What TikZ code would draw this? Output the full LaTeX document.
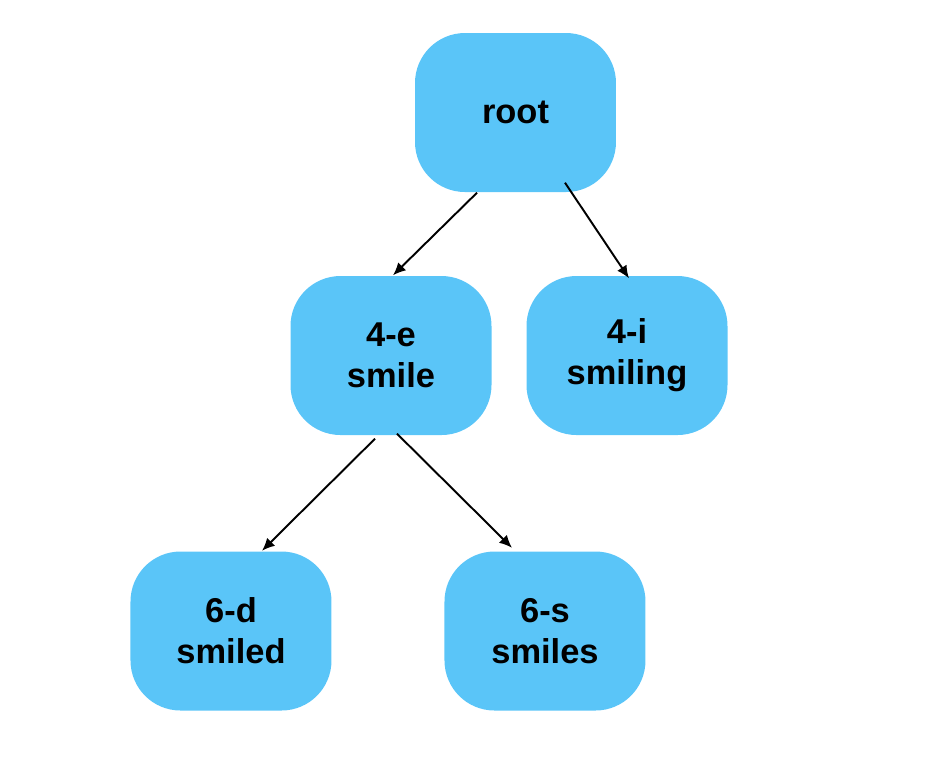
\documentclass[tikz,border=0pt]{standalone}
\usepackage{fontspec}
\setmainfont{Liberation Sans}
\usepackage{tikz}
\usetikzlibrary{calc,positioning,arrows,arrows.meta}
\definecolor{nodeblue}{HTML}{5AC5F8}

\begin{document}
\begin{tikzpicture}[x=1cm, y=-1cm, edge/.style={-{Latex[length=3.6pt,width=3.2pt]}, line width=0.55pt}]
\tikzstyle{word}=[rectangle, rounded corners=0.5cm, fill=nodeblue, minimum width=2.01cm, minimum height=1.59cm, align=center, font=\fontsize{9.8}{11.7}\selectfont\bfseries, inner sep=0pt]
\useasboundingbox (0,0) rectangle (9.40,7.78);
\node[word] (root) at (5.155,1.125) {root};
\node[word] (e) at (3.91,3.555) {4-e\\smile};
\node[word] (i) at (6.27,3.555) {4-i\\smiling};
\node[word] (d) at (2.31,6.31) {6-d\\smiled};
\node[word] (s) at (5.45,6.31) {6-s\\smiles};
\foreach \i/\ix/\iy/\j/\jx/\jy in {root/-0.385/0/e/0.02/0, root/0.495/0.1/i/0.02/-0.03, e/-0.16/-0.03/d/0.31/0, e/0.06/0.02/s/-0.33/0.03}{
  \draw[edge] ([xshift=\ix cm, yshift=\iy cm]\i.south) -- ([xshift=\jx cm, yshift=\jy cm]\j.north);}
\end{tikzpicture}
\end{document}
